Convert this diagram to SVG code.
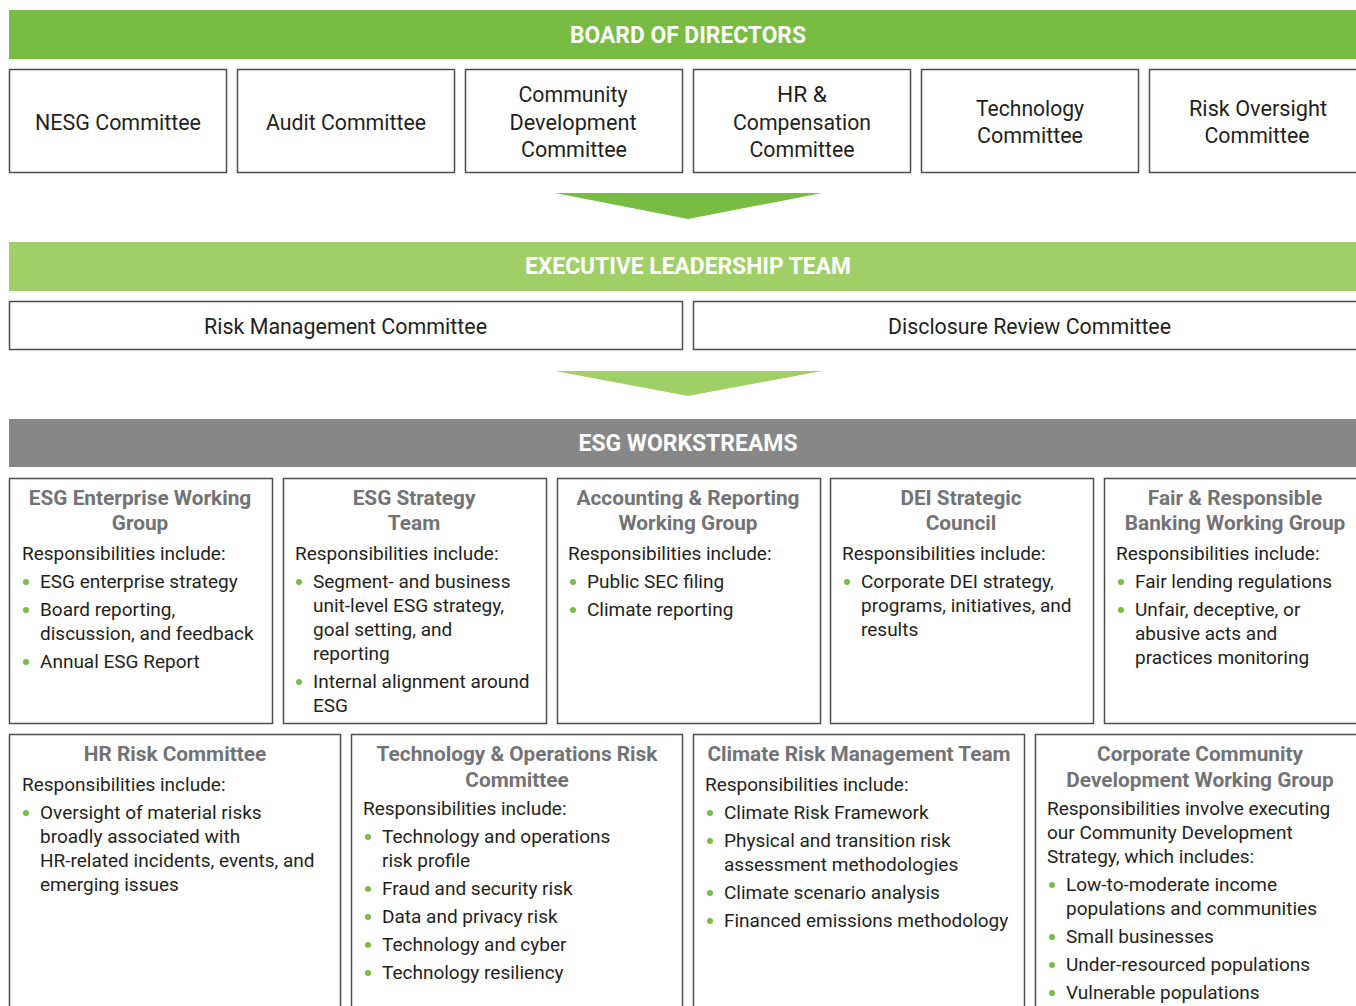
<svg xmlns="http://www.w3.org/2000/svg" width="1356" height="1006" viewBox="0 0 1356 1006">
<style>
.box{fill:#fff;stroke:#4d4d4d;stroke-width:1.5}
.cm{font-family:Roboto,"Liberation Sans",sans-serif;font-size:22px;fill:#231f20;text-anchor:middle}
.bar{font-family:Roboto,"Liberation Sans",sans-serif;font-size:23px;font-weight:bold;fill:#fff;text-anchor:middle}
.ttl{font-family:Roboto,"Liberation Sans",sans-serif;font-size:20.8px;font-weight:bold;fill:#727376;text-anchor:middle}
.tx{font-family:Roboto,"Liberation Sans",sans-serif;font-size:19px;fill:#231f20}
.dot{fill:#78bc43}
</style>
<rect width="1356" height="1006" fill="#fff"/>
<g id="board">
<rect x="9" y="10" width="1347" height="49" fill="#78bc43"/>
<text class="bar" x="688" y="43" textLength="236" lengthAdjust="spacingAndGlyphs">BOARD OF DIRECTORS</text>
</g>
<g id="nesg"><rect class="box" x="9.5" y="69.5" width="217" height="103"/>
<text class="cm" x="118" y="130" textLength="166" lengthAdjust="spacingAndGlyphs">NESG Committee</text></g>
<g id="audit"><rect class="box" x="237.5" y="69.5" width="217" height="103"/>
<text class="cm" x="346" y="130" textLength="160" lengthAdjust="spacingAndGlyphs">Audit Committee</text></g>
<g id="community"><rect class="box" x="465.5" y="69.5" width="217" height="103"/>
<text class="cm" x="573" y="102" textLength="109" lengthAdjust="spacingAndGlyphs">Community</text>
<text class="cm" x="573" y="130" textLength="127" lengthAdjust="spacingAndGlyphs">Development</text>
<text class="cm" x="574" y="157" textLength="106" lengthAdjust="spacingAndGlyphs">Committee</text></g>
<g id="hr"><rect class="box" x="693.5" y="69.5" width="217" height="103"/>
<text class="cm" x="802" y="102" textLength="50" lengthAdjust="spacingAndGlyphs">HR &amp;</text>
<text class="cm" x="802" y="130" textLength="138" lengthAdjust="spacingAndGlyphs">Compensation</text>
<text class="cm" x="802" y="157" textLength="105" lengthAdjust="spacingAndGlyphs">Committee</text></g>
<g id="technology"><rect class="box" x="921.5" y="69.5" width="217" height="103"/>
<text class="cm" x="1030" y="116" textLength="108" lengthAdjust="spacingAndGlyphs">Technology</text>
<text class="cm" x="1030" y="143" textLength="106" lengthAdjust="spacingAndGlyphs">Committee</text></g>
<g id="riskoversight"><rect class="box" x="1149.5" y="69.5" width="217" height="103"/>
<text class="cm" x="1258" y="116" textLength="138" lengthAdjust="spacingAndGlyphs">Risk Oversight</text>
<text class="cm" x="1257" y="143" textLength="105" lengthAdjust="spacingAndGlyphs">Committee</text></g>
<g id="connectors">
<polygon points="555,193 822,193 688,219" fill="#78bc43"/>
<polygon points="555,371 822,371 688,396" fill="#a1cf67"/>
</g>
<g id="exec">
<rect x="9" y="242" width="1347" height="49" fill="#a1cf67"/>
<text class="bar" x="688" y="274" textLength="326" lengthAdjust="spacingAndGlyphs">EXECUTIVE LEADERSHIP TEAM</text>
</g>
<g id="riskmgmt"><rect class="box" x="9.5" y="301.5" width="673" height="48"/>
<text class="cm" x="345.5" y="334" textLength="283" lengthAdjust="spacingAndGlyphs">Risk Management Committee</text></g>
<g id="disclosure"><rect class="box" x="693.5" y="301.5" width="673" height="48"/>
<text class="cm" x="1029.5" y="334" textLength="283" lengthAdjust="spacingAndGlyphs">Disclosure Review Committee</text></g>
<g id="workstreams">
<rect x="9" y="419" width="1347" height="48" fill="#878787"/>
<text class="bar" x="688" y="451" textLength="219" lengthAdjust="spacingAndGlyphs">ESG WORKSTREAMS</text>
</g>
<g id="esg-enterprise"><rect class="box" x="9.5" y="478.5" width="263" height="245"/>
<text class="ttl" x="140" y="505">ESG Enterprise Working</text>
<text class="ttl" x="140" y="530">Group</text>
<text class="tx" x="22" y="560">Responsibilities include:</text>
<circle class="dot" cx="26" cy="582" r="3"/><text class="tx" x="40" y="588">ESG enterprise strategy</text>
<circle class="dot" cx="26" cy="610" r="3"/><text class="tx" x="40" y="616">Board reporting,</text>
<text class="tx" x="40" y="640">discussion, and feedback</text>
<circle class="dot" cx="26" cy="662" r="3"/><text class="tx" x="40" y="668">Annual ESG Report</text>
</g>
<g id="esg-strategy"><rect class="box" x="283.5" y="478.5" width="263" height="245"/>
<text class="ttl" x="414" y="505">ESG Strategy</text>
<text class="ttl" x="414" y="530">Team</text>
<text class="tx" x="295" y="560">Responsibilities include:</text>
<circle class="dot" cx="299" cy="582" r="3"/><text class="tx" x="313" y="588">Segment- and business</text>
<text class="tx" x="313" y="612">unit-level ESG strategy,</text>
<text class="tx" x="313" y="636">goal setting, and</text>
<text class="tx" x="313" y="660">reporting</text>
<circle class="dot" cx="299" cy="682" r="3"/><text class="tx" x="313" y="688">Internal alignment around</text>
<text class="tx" x="313" y="712">ESG</text>
</g>
<g id="accounting"><rect class="box" x="557.5" y="478.5" width="263" height="245"/>
<text class="ttl" x="688" y="505">Accounting &amp; Reporting</text>
<text class="ttl" x="688" y="530">Working Group</text>
<text class="tx" x="568" y="560">Responsibilities include:</text>
<circle class="dot" cx="573" cy="582" r="3"/><text class="tx" x="587" y="588">Public SEC filing</text>
<circle class="dot" cx="573" cy="610" r="3"/><text class="tx" x="587" y="616">Climate reporting</text>
</g>
<g id="dei"><rect class="box" x="830.5" y="478.5" width="263" height="245"/>
<text class="ttl" x="961" y="505">DEI Strategic</text>
<text class="ttl" x="961" y="530">Council</text>
<text class="tx" x="842" y="560">Responsibilities include:</text>
<circle class="dot" cx="847" cy="582" r="3"/><text class="tx" x="861" y="588">Corporate DEI strategy,</text>
<text class="tx" x="861" y="612">programs, initiatives, and</text>
<text class="tx" x="861" y="636">results</text>
</g>
<g id="fair-banking"><rect class="box" x="1104.5" y="478.5" width="263" height="245"/>
<text class="ttl" x="1235" y="505">Fair &amp; Responsible</text>
<text class="ttl" x="1235" y="530">Banking Working Group</text>
<text class="tx" x="1116" y="560">Responsibilities include:</text>
<circle class="dot" cx="1121" cy="582" r="3"/><text class="tx" x="1135" y="588">Fair lending regulations</text>
<circle class="dot" cx="1121" cy="610" r="3"/><text class="tx" x="1135" y="616">Unfair, deceptive, or</text>
<text class="tx" x="1135" y="640">abusive acts and</text>
<text class="tx" x="1135" y="664">practices monitoring</text>
</g>
<g id="hr-risk"><rect class="box" x="9.5" y="734.5" width="331" height="280"/>
<text class="ttl" x="175" y="761">HR Risk Committee</text>
<text class="tx" x="22" y="791">Responsibilities include:</text>
<circle class="dot" cx="26" cy="813" r="3"/><text class="tx" x="40" y="819">Oversight of material risks</text>
<text class="tx" x="40" y="843">broadly associated with</text>
<text class="tx" x="40" y="867">HR-related incidents, events, and</text>
<text class="tx" x="40" y="891">emerging issues</text>
</g>
<g id="tech-ops"><rect class="box" x="351.5" y="734.5" width="331" height="280"/>
<text class="ttl" x="517" y="761">Technology &amp; Operations Risk</text>
<text class="ttl" x="517" y="787">Committee</text>
<text class="tx" x="363" y="815">Responsibilities include:</text>
<circle class="dot" cx="368" cy="837" r="3"/><text class="tx" x="382" y="843">Technology and operations</text>
<text class="tx" x="382" y="867">risk profile</text>
<circle class="dot" cx="368" cy="889" r="3"/><text class="tx" x="382" y="895">Fraud and security risk</text>
<circle class="dot" cx="368" cy="917" r="3"/><text class="tx" x="382" y="923">Data and privacy risk</text>
<circle class="dot" cx="368" cy="945" r="3"/><text class="tx" x="382" y="951">Technology and cyber</text>
<circle class="dot" cx="368" cy="973" r="3"/><text class="tx" x="382" y="979">Technology resiliency</text>
</g>
<g id="climate"><rect class="box" x="693.5" y="734.5" width="331" height="280"/>
<text class="ttl" x="859" y="761">Climate Risk Management Team</text>
<text class="tx" x="705" y="791">Responsibilities include:</text>
<circle class="dot" cx="710" cy="813" r="3"/><text class="tx" x="724" y="819">Climate Risk Framework</text>
<circle class="dot" cx="710" cy="841" r="3"/><text class="tx" x="724" y="847">Physical and transition risk</text>
<text class="tx" x="724" y="871">assessment methodologies</text>
<circle class="dot" cx="710" cy="893" r="3"/><text class="tx" x="724" y="899">Climate scenario analysis</text>
<circle class="dot" cx="710" cy="921" r="3"/><text class="tx" x="724" y="927">Financed emissions methodology</text>
</g>
<g id="corp-community"><rect class="box" x="1035.5" y="734.5" width="331" height="280"/>
<text class="ttl" x="1200" y="761">Corporate Community</text>
<text class="ttl" x="1200" y="787">Development Working Group</text>
<text class="tx" x="1047" y="815">Responsibilities involve executing</text>
<text class="tx" x="1047" y="839">our Community Development</text>
<text class="tx" x="1047" y="863">Strategy, which includes:</text>
<circle class="dot" cx="1052" cy="885" r="3"/><text class="tx" x="1066" y="891">Low-to-moderate income</text>
<text class="tx" x="1066" y="915">populations and communities</text>
<circle class="dot" cx="1052" cy="937" r="3"/><text class="tx" x="1066" y="943">Small businesses</text>
<circle class="dot" cx="1052" cy="965" r="3"/><text class="tx" x="1066" y="971">Under-resourced populations</text>
<circle class="dot" cx="1052" cy="993" r="3"/><text class="tx" x="1066" y="999">Vulnerable populations</text>
</g>
</svg>
